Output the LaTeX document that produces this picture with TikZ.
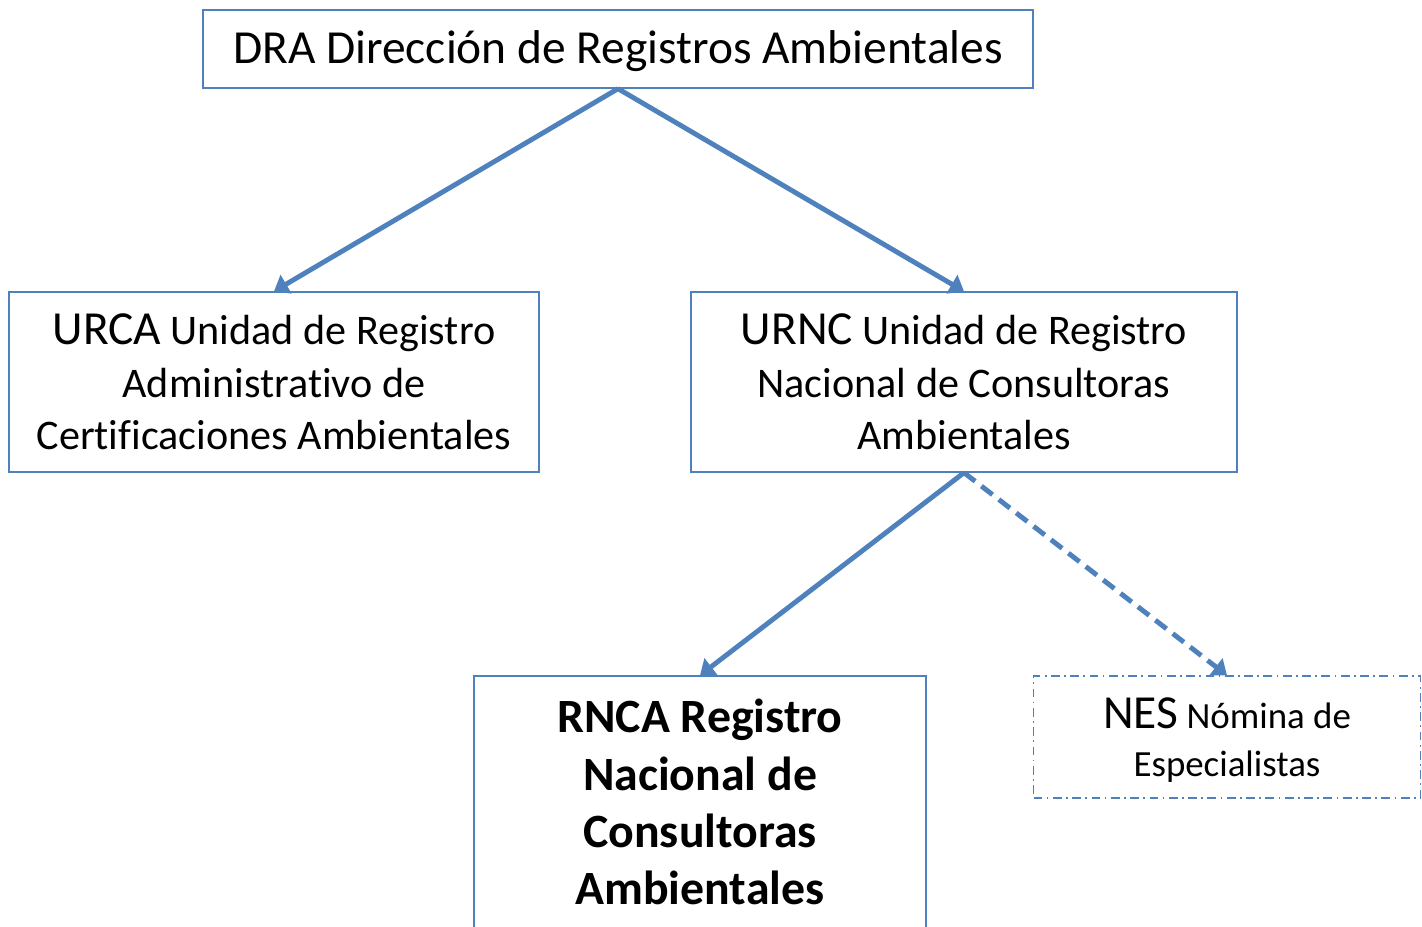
\documentclass[tikz,border=0pt]{standalone}
\usepackage{fontspec}
\setmainfont[Ligatures = NoCommon]{Carlito}
\usetikzlibrary{arrows.meta}
\definecolor{boxblue}{HTML}{4F81BD}
\newcommand{\acro}[1]{{\fontsize{27}{33}\selectfont #1}}

\begin{document}
\begin{tikzpicture}%
    [x = 0.02cm, y = -0.02cm,
     box/.style = {draw = boxblue, line width = 0.8pt, align = center, inner sep = 0pt},
     link/.style = {-{Triangle[length = 8pt, width = 12pt]}, draw = boxblue, line width = 2.8pt}]
    \useasboundingbox (0, 0) rectangle (1422, 926);
    \clip (0, 0) rectangle (1422, 926);
    \node [box, minimum width = 16.6cm, minimum height = 1.56cm, text depth = 2pt,
           font = \fontsize{27}{33}\selectfont] (1) at (618, 49)
        {DRA Dirección de Registros Ambientales};
    \node [box, minimum width = 10.6cm, minimum height = 3.6cm,
           font = \fontsize{24}{29.8}\selectfont] (2) at (274, 382)
        {\acro{URCA} Unidad de Registro\\ Administrativo de\\ Certificaciones Ambientales};
    \node [box, minimum width = 10.92cm, minimum height = 3.6cm,
           font = \fontsize{24}{29.8}\selectfont] (3) at (964, 382)
        {\acro{URNC} Unidad de Registro\\ Nacional de Consultoras\\ Ambientales};
    \node [box, minimum width = 9.04cm, minimum height = 5.2cm, text depth = 4.6pt,
           font = \fontsize{27.2}{32.7}\selectfont\bfseries] (4) at (700, 806)
        {RNCA Registro\\ Nacional de\\ Consultoras\\ Ambientales};
    \node [box, line width = 0.7pt, dash pattern = on 5pt off 2.5pt on 1pt off 2.5pt,
           minimum width = 7.74cm, minimum height = 2.44cm, text depth = -3pt,
           font = \fontsize{21}{27.2}\selectfont] (5) at (1227, 737)
        {\acro{NES} Nómina de\\ Especialistas};

    \draw [link] (1.south) to (2.north);
    \draw [link] (1.south) to (3.north);
    \draw [link] (3.south) to (4.north);
    \draw [link, dash pattern = on 8pt off 4.5pt] (3.south) to (5.north);
\end{tikzpicture}
\end{document}
